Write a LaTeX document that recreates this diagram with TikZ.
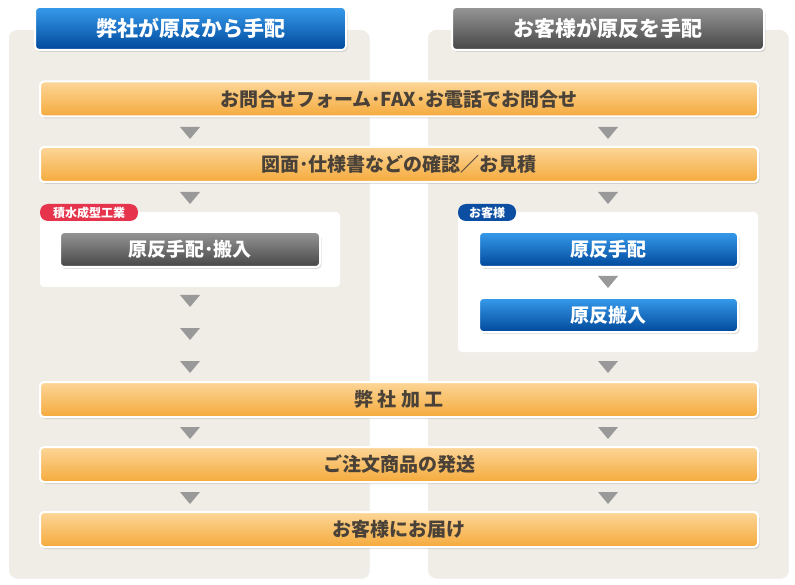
\documentclass[tikz,border=0pt]{standalone}
\usepackage{fontspec}
\setmainfont{Noto Sans CJK JP}
\usetikzlibrary{shadows}
\definecolor{panelbg}{RGB}{240,237,230}
\definecolor{oranget}{RGB}{252,214,152}
\definecolor{orangem}{RGB}{248,184,88}
\definecolor{orangeb}{RGB}{245,170,60}
\definecolor{bluet}{RGB}{55,155,235}
\definecolor{bluem}{RGB}{18,98,185}
\definecolor{blueb}{RGB}{0,72,155}
\definecolor{grayt}{RGB}{150,150,150}
\definecolor{graym}{RGB}{98,98,98}
\definecolor{grayb}{RGB}{70,70,70}
\definecolor{txtc}{RGB}{74,66,56}
\definecolor{tric}{RGB}{153,153,153}
\definecolor{pillred}{RGB}{229,52,75}
\definecolor{pillblue}{RGB}{11,78,162}
\newcommand\flowtri[2]{\fill[tri] (#1-10,#2) -- (#1+10,#2) -- (#1,#2+12) -- cycle;}
\begin{document}
\begin{tikzpicture}[x=1pt,y=-1pt,
  every node/.style={inner sep=0pt, outer sep=0pt},
  panel/.style={fill=panelbg, rounded corners=8pt, drop shadow={opacity=0.10, shadow xshift=1pt, shadow yshift=-1pt}},
  btn/.style={rounded corners=4pt, draw=white, line width=2pt, drop shadow={opacity=0.25, shadow xshift=1.5pt, shadow yshift=-2pt}},
  bluegrad/.style={top color=bluet, middle color=bluem, bottom color=blueb},
  graygrad/.style={top color=grayt, middle color=graym, bottom color=grayb},
  header/.style={btn, bluegrad, text=white, font=\bfseries\fontsize{21}{21}\selectfont},
  headergray/.style={btn, graygrad, text=white, font=\bfseries\fontsize{21}{21}\selectfont},
  bar/.style={btn, top color=oranget, middle color=orangem, bottom color=orangeb, text=txtc, minimum width=718pt, minimum height=35pt, font=\bfseries\fontsize{19}{19}\selectfont},
  graybtn/.style={btn, graygrad, text=white, font=\bfseries\fontsize{19}{19}\selectfont},
  bluebtn/.style={btn, bluegrad, text=white, font=\bfseries\fontsize{19}{19}\selectfont},
  whitebox/.style={fill=white, rounded corners=4pt},
  pill/.style={rounded corners=8pt, text=white, minimum height=17pt, font=\bfseries\fontsize{12}{12}\selectfont},
  tri/.style={fill=tric}
]
\useasboundingbox (0,0) rectangle (795,585);
% panels
\node[panel, minimum width=360pt, minimum height=548pt] (lpanel) at (189,304) {};
\node[panel, minimum width=360pt, minimum height=548pt] (rpanel) at (608,304) {};
% headers
\node[header, minimum width=311pt, minimum height=43pt] (lhead) at (190.5,28.5) {弊社が原反から手配};
\node[headergray, minimum width=312pt, minimum height=43pt] (rhead) at (608,28.5) {お客様が原反を手配};
% bars
\node[bar] (b1) at (399,99) {お問合せフォーム･FAX･お電話でお問合せ};
\node[bar] (b2) at (399,164.5) {図面･仕様書などの確認／お見積};
\node[bar] (b3) at (399,399.5) {弊\hspace{4.5pt}社\hspace{4.5pt}加\hspace{4.5pt}工};
\node[bar] (b4) at (399,464.5) {ご注文商品の発送};
\node[bar] (b5) at (399,529.5) {お客様にお届け};
% white boxes
\node[whitebox, minimum width=300pt, minimum height=75pt] (lbox) at (190,249.5) {};
\node[whitebox, minimum width=300pt, minimum height=140pt] (rbox) at (608,282) {};
\node[pill, fill=pillred, minimum width=98pt] (lpill) at (89,212.5) {積水成型工業};
\node[pill, fill=pillblue, minimum width=58pt] (rpill) at (487,212.5) {お客様};
\node[graybtn, minimum width=260pt, minimum height=35pt] (lg) at (190,249.5) {原反手配･搬入};
\node[bluebtn, minimum width=259pt, minimum height=35pt] (rb1) at (608.5,249.5) {原反手配};
\node[bluebtn, minimum width=259pt, minimum height=34pt] (rb2) at (608.5,315) {原反搬入};
% triangles
\flowtri{190}{127}\flowtri{608}{127}
\flowtri{190}{192}\flowtri{608}{192}
\flowtri{190}{295}\flowtri{190}{328}\flowtri{190}{361}
\flowtri{608}{276}\flowtri{608}{361}
\flowtri{190}{427}\flowtri{608}{427}
\flowtri{190}{492}\flowtri{608}{492}
\end{tikzpicture}
\end{document}
